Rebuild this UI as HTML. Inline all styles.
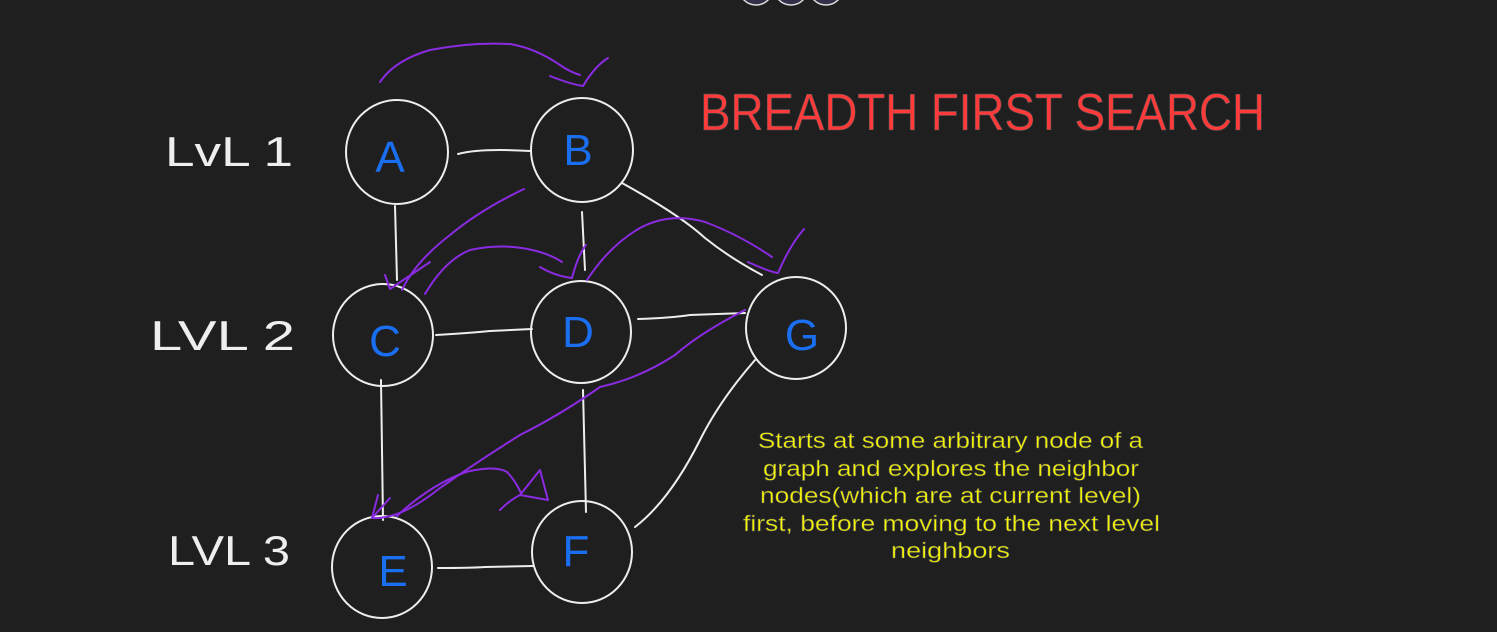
<!DOCTYPE html>
<html><head><meta charset="utf-8"><style>
html,body{margin:0;padding:0;background:#1f1f1f;}
svg{display:block}
</style></head><body>
<svg width="1497" height="632" viewBox="0 0 1497 632" xmlns="http://www.w3.org/2000/svg">
<rect width="1497" height="632" fill="#1f1f1f"/>
<g fill="#33304a" stroke="#ddd" stroke-width="1.5">
<circle cx="756" cy="-12" r="17"/><circle cx="791" cy="-12" r="17"/><circle cx="826" cy="-12" r="17"/>
</g>
<g fill="none" stroke="#eee" stroke-width="2">
<ellipse cx="397" cy="152" rx="51" ry="52"/>
<ellipse cx="582" cy="150" rx="51" ry="52"/>
<ellipse cx="383" cy="335" rx="50" ry="51"/>
<ellipse cx="581" cy="332" rx="50" ry="51"/>
<ellipse cx="796" cy="328" rx="50" ry="51"/>
<ellipse cx="382" cy="567" rx="50" ry="51"/>
<ellipse cx="582" cy="552" rx="50" ry="51"/>
</g>
<g fill="none" stroke="#eee" stroke-width="2" stroke-linecap="round">
<path d="M458 154 Q480 148 530 151"/>
<path d="M395 206 L397 280"/>
<path d="M582 212 L585 270"/>
<path d="M622 183 Q680 215 705 238 Q730 258 762 275"/>
<path d="M436 335 Q470 333 490 331 L532 329"/>
<path d="M638 319 Q670 318 690 315 L745 313"/>
<path d="M381 380 L383 520"/>
<path d="M583 390 L586 512"/>
<path d="M438 568 Q470 568 485 567 L533 566"/>
<path d="M755 360 Q720 400 700 440 Q670 500 635 527"/>
</g>
<g fill="none" stroke="#8a2be2" stroke-width="2" stroke-linecap="round" stroke-linejoin="round">
<path d="M380 82 Q395 60 430 50 Q470 42 510 44 Q535 48 560 65 Q570 72 580 75"/>
<path d="M550 76 Q570 84 583 86 Q595 66 608 58"/>
<path d="M524 189 Q480 210 450 235 Q415 262 402 290"/>
<path d="M385 275 L390 289 L430 262"/>
<path d="M425 294 Q445 260 470 250 Q505 242 540 252 Q553 256 562 262"/>
<path d="M540 267 Q555 276 572 278 Q578 255 586 245"/>
<path d="M587 280 Q610 245 640 228 Q670 212 705 222 Q740 235 772 257"/>
<path d="M748 262 Q770 272 778 273 Q790 245 804 229"/>
<path d="M745 310 Q700 333 675 355 Q640 378 600 387 Q560 415 520 435 Q480 460 440 488 Q400 520 372 518"/>
<path d="M372 518 L378 495 M372 518 L390 498"/>
<path d="M397 516 Q430 485 466 472 Q495 465 507 472 Q515 480 521 493"/>
<path d="M500 510 Q510 500 520 495 L548 500 L540 470 L520 495"/>
</g>
<g fill="#1a6ef0" font-family="Liberation Sans, sans-serif" font-size="44" text-anchor="middle">
<text x="390" y="172">A</text>
<text x="578" y="165">B</text>
<text x="385" y="356">C</text>
<text x="578" y="347">D</text>
<text x="802" y="350">G</text>
<text x="393" y="586">E</text>
<text x="576" y="566">F</text>
</g>
<g fill="#eee" font-family="Liberation Sans, sans-serif" font-size="42">
<text x="165" y="166" textLength="128" lengthAdjust="spacingAndGlyphs">LvL 1</text>
<text x="150" y="350" textLength="145" lengthAdjust="spacingAndGlyphs">LVL 2</text>
<text x="168" y="565" textLength="122" lengthAdjust="spacingAndGlyphs">LVL 3</text>
</g>
<text x="700" y="130" fill="#ff3a3a" stroke="#555" stroke-width="0.6" font-family="Liberation Sans, sans-serif" font-size="52" textLength="565" lengthAdjust="spacingAndGlyphs">BREADTH FIRST SEARCH</text>
<g fill="#f5f500" stroke="#555" stroke-width="0.5" font-family="Liberation Sans, sans-serif" font-size="22">
<text x="758" y="448" textLength="385" lengthAdjust="spacingAndGlyphs">Starts at some arbitrary node of a</text>
<text x="763" y="476" textLength="376" lengthAdjust="spacingAndGlyphs">graph and explores the neighbor</text>
<text x="760" y="503" textLength="381" lengthAdjust="spacingAndGlyphs">nodes(which are at current level)</text>
<text x="743" y="531" textLength="417" lengthAdjust="spacingAndGlyphs">first, before moving to the next level</text>
<text x="891" y="558" textLength="119" lengthAdjust="spacingAndGlyphs">neighbors</text>
</g>
</svg>
</body></html>
